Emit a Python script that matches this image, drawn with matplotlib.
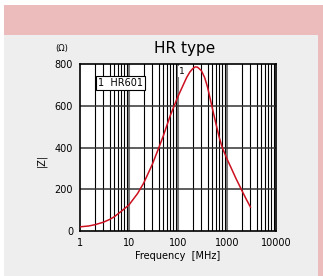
import numpy as np
import matplotlib.pyplot as plt
from matplotlib.patches import Rectangle

# impedance curve
freq = [1, 1.5, 2, 3, 4, 5, 7, 10, 15, 20, 30, 40, 50, 70, 100, 150, 175, 200, 225, 250, 300,
        350, 400, 500, 600, 700, 800, 1000, 1200, 1500, 2000, 2500, 3000]
imp = [20, 24, 30, 42, 55, 68, 95, 125, 180, 230, 320, 395, 455, 555, 645, 735, 762, 778, 786, 785, 768,
       735, 690, 590, 510, 445, 400, 345, 305, 255, 195, 150, 115]
yticks = [0, 200, 400, 600, 800]
xticks = [1, 10, 100, 1000, 10000]

W, H = 323, 276
fig = plt.figure(figsize=(W / 100, H / 100), dpi=100)
fig.patch.set_facecolor('white')
fig.patches.append(Rectangle((4 / W, 0), 1 - 4 / W, 1 - 5 / H, transform=fig.transFigure,
                             facecolor='#ecbcbd', edgecolor='none', zorder=-10))
fig.patches.append(Rectangle((4 / W, 0), (318 - 4) / W, 1 - 35 / H, transform=fig.transFigure,
                             facecolor='#eeeeee', edgecolor='none', zorder=-9))

ax = fig.add_axes([80 / W, 1 - 231 / H, 196 / W, 167 / H])
ax.set_facecolor('white')
ax.set_xscale('log')
ax.set_xlim(1, 10000)
ax.set_ylim(0, 800)

# grid
for dec in [1, 10, 100, 1000]:
    for m in range(2, 10):
        ax.axvline(dec * m, color='black', lw=0.8, zorder=1)
    if dec > 1:
        ax.axvline(dec, color='#777777', lw=1.5, zorder=1)
for v in [200, 400, 600]:
    ax.axhline(v, color='#333333', lw=1.1, zorder=1)

ax.plot(freq, imp, color='#cc1020', lw=1.1, zorder=3)

ax.set_xticks(xticks)
ax.set_xticklabels([str(x) for x in xticks])
ax.set_yticks(yticks)
ax.minorticks_off()
ax.tick_params(length=0, labelsize=7, pad=5)
for s in ax.spines.values():
    s.set_linewidth(1.2)

ax.text(0.09, 0.885, '1  HR601', transform=ax.transAxes, fontsize=7, va='center', ha='left',
        bbox=dict(boxstyle='square,pad=0.2', facecolor='white', edgecolor='black', lw=0.8), zorder=5)
ax.text(0.52, 0.955, '1', transform=ax.transAxes, fontsize=6.5, va='center', ha='center',
        bbox=dict(boxstyle='square,pad=0.1', facecolor='white', edgecolor='none'), zorder=2)

fig.text(185 / W, 1 - 48 / H, 'HR type', fontsize=11, ha='center', va='center')
fig.text(62 / W, 1 - 48 / H, '(Ω)', fontsize=6, ha='center', va='center')
fig.text(41 / W, 1 - 160 / H, '|Z|', fontsize=7, ha='center', va='center', rotation=90)
fig.text(178 / W, 1 - 256 / H, 'Frequency  [MHz]', fontsize=7, ha='center', va='center')

fig.savefig('out.png', dpi=100)
